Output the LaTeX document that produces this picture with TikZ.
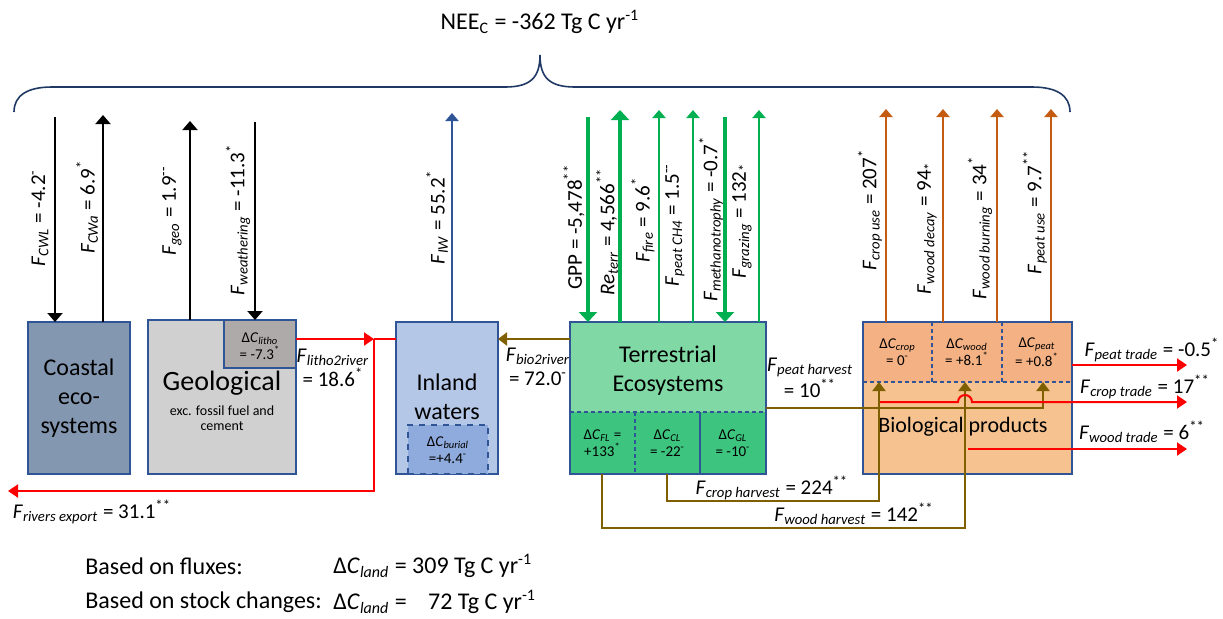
\documentclass[tikz,border=0pt]{standalone}
\usepackage{fontspec}
\setmainfont{Carlito}
\usepackage{tikz}
\usetikzlibrary{arrows.meta}

\definecolor{boxline}{HTML}{2F5597}
\definecolor{bracec}{HTML}{1F3864}
\definecolor{coastalc}{HTML}{8497B0}
\definecolor{geolc}{HTML}{D0D0D0}
\definecolor{lithoc}{HTML}{AEAAAA}
\definecolor{inlandc}{HTML}{B4C7E7}
\definecolor{burialc}{HTML}{8FAADC}
\definecolor{terrc}{HTML}{80D9A5}
\definecolor{terrdc}{HTML}{3DC47E}
\definecolor{biotc}{HTML}{F4B183}
\definecolor{biobc}{HTML}{F6C290}
\definecolor{greenc}{HTML}{00B050}
\definecolor{orangec}{HTML}{C55A11}
\definecolor{brownc}{HTML}{7F6000}

\newcommand{\flx}[1]{\textit{F}\textsubscript{\textit{#1}}}
\newcommand{\dC}[1]{Δ\textit{C}\textsubscript{\textit{#1}}}
\newcommand{\sups}[1]{\textsuperscript{#1}}
\newcommand{\labfont}{\fontsize{10.5}{12}\selectfont}
\newcommand{\cellfont}{\fontsize{7.5}{8.5}\selectfont}
\newcommand{\boxfont}{\fontsize{12}{14.5}\selectfont}
\newcommand{\titfont}{\fontsize{12}{14}\selectfont}
\newcommand{\geofont}{\fontsize{14}{16}\selectfont}
\newcommand{\tinyfont}{\fontsize{7}{7.5}\selectfont}

\begin{document}
\begin{tikzpicture}[x=0.5pt,y=-0.5pt,
    box/.style={draw=boxline,line width=0.75pt,inner sep=0pt,outer sep=0pt},
    edge/.style={draw=boxline,line width=0.75pt},
    dashln/.style={draw=boxline,line width=0.6pt,dash pattern=on 2pt off 1.5pt},
    cell/.style={inner sep=0pt,outer sep=0pt,align=center,font=\cellfont},
    boxtxt/.style={align=center,font=\boxfont,inner sep=0pt},
    rlab/.style={rotate=90,font=\labfont,inner sep=0pt},
    hlab/.style={font=\labfont,align=center,inner sep=0pt},
    blkarr/.style={line width=1pt,-{Triangle[width=7.5pt,length=4.5pt]}},
    bluarr/.style={boxline,line width=1pt,-{Triangle[width=6.5pt,length=4pt]}},
    grnthin/.style={greenc,line width=1pt,-{Triangle[width=6.5pt,length=4pt]}},
    grnthick/.style={greenc,line width=2pt,-{Triangle[width=9pt,length=5pt]}},
    orgarr/.style={orangec,line width=1pt,-{Triangle[width=6.5pt,length=4pt]}},
    brnarr/.style={brownc,line width=1pt,-{Triangle[width=6.5pt,length=4.5pt]}},
    redarr/.style={red,line width=1pt,-{Triangle[width=6.5pt,length=5pt]}},
    redln/.style={red,line width=1pt}]

\useasboundingbox (0,0) rectangle (1223,618);

\node[font=\titfont] (nee) at (540,22) {NEE\textsubscript{C} = -362 Tg C yr\sups{-1}};
\draw[bracec,line width=0.8pt] (14,112) .. controls (14,95) and (28,87) .. (52,87) -- (505,87)
    .. controls (530,87) and (540,78) .. (540,55) .. controls (540,78) and (550,87) .. (575,87)
    -- (1032,87) .. controls (1056,87) and (1070,95) .. (1070,112);

\node[box,fill=coastalc,minimum width=51pt,minimum height=76pt,align=center,font=\boxfont] (coastal) at (79,398) {Coastal\\eco-\\systems};

\node[box,fill=geolc,minimum width=74pt,minimum height=77pt] (geol) at (222,397) {};
\node[box,fill=lithoc,minimum width=36pt,minimum height=24pt,anchor=north east] (litho) at (geol.north east) {};
\node[cell] (lithotxt) at (260,346) {\dC{litho}\\= -7.3\sups{*}};
\node[font=\geofont,inner sep=0pt] (geoltxt) at (222,383) {Geological};
\node[font=\tinyfont,align=center,inner sep=0pt] (geolsub) at (222,418) {exc. fossil fuel and\\cement};

\node[box,fill=inlandc,minimum width=51pt,minimum height=76pt] (inland) at (447,398) {};
\node[box,fill=burialc,dashed,minimum width=40pt,minimum height=24.5pt] (burial) at (448,449.5) {};
\node[cell] (burialtxt) at (448,450) {\dC{burial}\\=+4.4\sups{-}};
\node[boxtxt] (inlandtxt) at (447,397) {Inland\\waters};

\node[box,fill=terrc,minimum width=98pt,minimum height=76pt] (terr) at (668,398) {};
\node[cell,fill=terrdc,minimum width=32.5pt,minimum height=31pt,anchor=south west] (FL) at (terr.south west) {\dC{FL} =\\+133\sups{*}};
\node[cell,fill=terrdc,minimum width=32.5pt,minimum height=31pt,anchor=south west] (CL) at (FL.south east) {\dC{CL}\\= -22\sups{-}};
\node[cell,fill=terrdc,minimum width=33pt,minimum height=31pt,anchor=south west] (GL) at (CL.south east) {\dC{GL}\\= -10\sups{-}};
\draw[dashln] (FL.north west) -- (GL.north east);
\draw[dashln] (FL.north east) -- (FL.south east);
\draw[edge,line width=0.6pt] (CL.north east) -- (CL.south east);
\draw[edge] (terr.south west) rectangle (terr.north east);
\node[boxtxt] (terrtxt) at (668,371) {Terrestrial\\Ecosystems};

\node[box,fill=biobc,minimum width=104.5pt,minimum height=76pt] (bio) at (967.5,398) {};
\node[cell,fill=biotc,minimum width=34.5pt,minimum height=30pt,anchor=north west] (bcrop) at (bio.north west) {\dC{crop}\\= 0\sups{-}};
\node[cell,fill=biotc,minimum width=35pt,minimum height=30pt,anchor=north west] (bwood) at (bcrop.north east) {\dC{wood}\\= +8.1\sups{*}};
\node[cell,fill=biotc,minimum width=35pt,minimum height=30pt,anchor=north west] (bpeat) at (bwood.north east) {\dC{peat}\\= +0.8\sups{*}};
\draw[dashln] (bcrop.south west) -- (bpeat.south east);
\draw[dashln] (bcrop.north east) -- (bcrop.south east);
\draw[dashln] (bwood.north east) -- (bwood.south east);
\draw[edge] (bio.south west) rectangle (bio.north east);
\node[font=\fontsize{11}{13}\selectfont,inner sep=0pt] (biotxt) at (963,427) {Biological products};

\coordinate (CWL) at (55,117);
\coordinate (CWa) at (103,115);
\coordinate (geo) at (190,121);
\coordinate (wea) at (255,122);

\draw[blkarr] (CWL) -- (CWL |- coastal.north);
\draw[blkarr] (CWa |- coastal.north) -- (CWa);
\draw[blkarr] (geo |- geol.north) -- (geo);
\draw[blkarr] (wea) -- (wea |- litho.north);

\node[rlab] (CWLlab) at (40,218) {\flx{CWL} = -4.2\sups{-}};
\node[rlab] (CWalab) at (87,207) {\flx{CWa} = 6.9\sups{*}};
\node[rlab] (geolab) at (172,211) {\flx{geo} = 1.9\sups{-{}-}};
\node[rlab] (wealab) at (238,220) {\flx{weathering} = -11.3\sups{*}};

\coordinate (IW) at (452,113);
\draw[bluarr] (IW |- inland.north) -- (IW);
\node[rlab] (IWlab) at (437,217) {\flx{IW} = 55.2\sups{*}};

\coordinate (GPP) at (588,117);
\coordinate (Re) at (620,110);
\coordinate (fire) at (659,110);
\coordinate (ch4) at (693,110);
\coordinate (mth) at (725,117);
\coordinate (grz) at (759,110);

\draw[grnthick] (GPP) -- (GPP |- terr.north);
\draw[grnthick] (Re |- terr.north) -- (Re);
\draw[grnthin] (fire |- terr.north) -- (fire);
\draw[grnthin] (ch4 |- terr.north) -- (ch4);
\draw[grnthick] (mth) -- (mth |- terr.north);
\draw[grnthin] (grz |- terr.north) -- (grz);

\node[rlab] (GPPlab) at (574,227) {GPP = -5,478\sups{**}};
\node[rlab] (Relab) at (607,232) {\textit{Re}\textsubscript{\textit{terr}} = 4,566\sups{**}};
\node[rlab] (firelab) at (643,220) {\flx{fire} = 9.6\sups{*}};
\node[rlab] (ch4lab) at (675,225) {\flx{peat CH4} = 1.5\sups{-{}-}};
\node[rlab] (mthlab) at (711,219) {\flx{methanotrophy} = -0.7\sups{*}};
\node[rlab] (grzlab) at (742,221) {\flx{grazing} = 132\textsubscript{*}};

\coordinate (cuse) at (886,109);
\coordinate (wdec) at (943,109);
\coordinate (wbrn) at (997,109);
\coordinate (puse) at (1051,109);

\draw[orgarr] (cuse |- bio.north) -- (cuse);
\draw[orgarr] (wdec |- bio.north) -- (wdec);
\draw[orgarr] (wbrn |- bio.north) -- (wbrn);
\draw[orgarr] (puse |- bio.north) -- (puse);

\node[rlab] (cuselab) at (870,210) {\flx{crop use} = 207\sups{*}};
\node[rlab] (wdeclab) at (927,228) {\flx{wood decay} = 94\textsubscript{*}};
\node[rlab] (wbrnlab) at (980,228) {\flx{wood burning} = 34\sups{*}};
\node[rlab] (puselab) at (1035,212) {\flx{peat use} = 9.7\sups{**}};

\coordinate (rj) at (374,339);
\coordinate (rexp) at (8,491);

\draw[redarr] (geol.east |- rj) -- (rj);
\draw[redln] (rj) -- (inland.west |- rj);
\draw[redarr] (rj) |- (rexp);
\draw[brnarr] (terr.west |- rj) -- (inland.east |- rj);

\node[hlab] (l2rlab) at (333,368) {\flx{litho2river}\\= 18.6\sups{*}};
\node[hlab] (b2rlab) at (538,367) {\flx{bio2river}\\= 72.0\sups{-}};
\node[hlab] (rexplab) at (92,512) {\flx{rivers export} = 31.1\sups{**}};

\coordinate (ph) at (1043,408);
\coordinate (ch) at (667,501);
\coordinate (chin) at (879,501);
\coordinate (wh) at (602,528);
\coordinate (whin) at (965,528);

\draw[brnarr] (terr.east |- ph) -| (ph |- bpeat.south);
\draw[brnarr] (ch |- terr.south) -- (ch) -- (chin) -- (chin |- bcrop.south);
\draw[brnarr] (wh |- terr.south) -- (wh) -- (whin) -- (whin |- bwood.south);

\node[hlab] (phlab) at (810,378) {\flx{peat harvest}\\= 10\sups{**}};
\node[hlab] (chlab) at (772,488) {\flx{crop harvest} = 224\sups{**}};
\node[hlab] (whlab) at (854,514) {\flx{wood harvest} = 142\sups{**}};

\coordinate (pt) at (1187,365);
\coordinate (ct0) at (880,402);
\coordinate (hop) at (958,402);
\coordinate (ct) at (1187,402);
\coordinate (wt0) at (968,449);
\coordinate (wt) at (1187,449);

\draw[redarr] (bio.east |- pt) -- (pt);
\draw[redarr] (ct0) -- (hop) arc[start angle=180,end angle=360,radius=7] -- (ct);
\draw[redarr] (wt0) -- (wt);

\node[hlab] (ptlab) at (1152,350) {\flx{peat trade} = -0.5\sups{*}};
\node[hlab] (ctlab) at (1145,387) {\flx{crop trade} = 17\sups{**}};
\node[hlab] (wtlab) at (1142,432) {\flx{wood trade} = 6\sups{**}};

\node[anchor=west,font=\titfont,inner sep=0pt] (flux) at (85,566) {Based on fluxes:};
\node[anchor=west,font=\titfont,inner sep=0pt] (fluxval) at (333,566) {\dC{land} = 309 Tg C yr\sups{-1}};
\node[anchor=west,font=\titfont,inner sep=0pt] (stock) at (85,602) {Based on stock changes:};
\node[anchor=west,font=\titfont,inner sep=0pt] (stockval) at (333,602) {\dC{land} = \hspace{8pt}72 Tg C yr\sups{-1}};

\end{tikzpicture}
\end{document}
